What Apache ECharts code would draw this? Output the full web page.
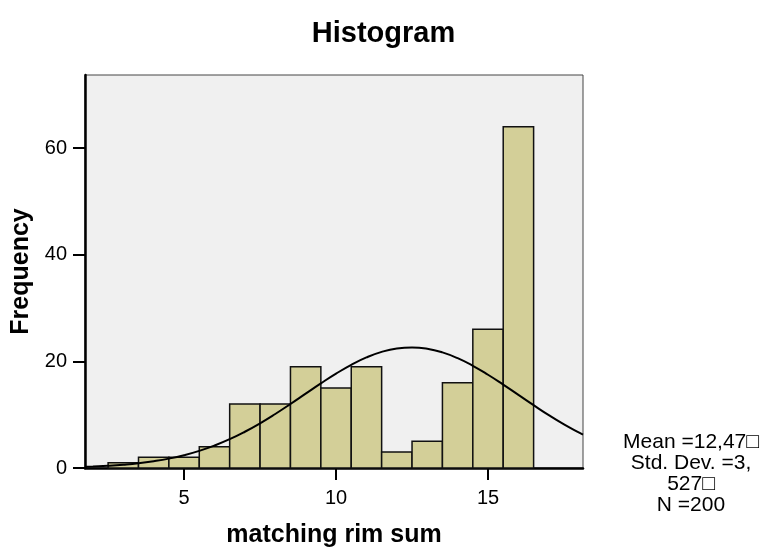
<!DOCTYPE html>
<html><head><meta charset="utf-8">
<script src="https://cdn.jsdelivr.net/npm/echarts@6/dist/echarts.min.js"></script>
<style>html,body{margin:0;padding:0;background:#fff}#c{width:767px;height:547px}</style>
</head><body><div id="c"></div>
<script>
var binStarts = [2.5,3.5,4.5,5.5,6.5,7.5,8.5,9.5,10.5,11.5,12.5,13.5,14.5,15.5];
var binCounts = [1,2,2,4,12,12,19,15,19,3,5,16,26,64];
var curveX = [1.74,2,2.5,3,3.5,4,4.5,5,5.5,6,6.5,7,7.5,8,8.5,9,9.5,10,10.5,11,11.5,12,12.5,13,13.5,14,14.5,15,15.5,16,16.5,17,17.5,18,18.125];
var curveY = [0.22,0.28,0.42,0.62,0.89,1.27,1.76,2.40,3.21,4.21,5.40,6.80,8.38,10.13,12.00,13.94,15.87,17.70,19.35,20.74,21.78,22.42,22.62,22.37,21.68,20.59,19.17,17.49,15.64,13.71,11.78,9.91,8.18,6.62,6.26];
var xTicks = [5,10,15];
var yTicks = [0,20,40,60];
var statLines = ['Mean =12,47\u25A1','Std. Dev. =3,','527\u25A1','N =200'];

var barData = binStarts.map(function(s,i){return [s, s+1, binCounts[i]];});
var curveData = curveX.map(function(x,i){return [x, curveY[i]];});
var FONT = '"Liberation Sans", Arial, sans-serif';

var chart = echarts.init(document.getElementById('c'));
chart.setOption({
  animation:false,
  backgroundColor:'#ffffff',
  title:{text:'Histogram', left:'center', top:14, textStyle:{fontFamily:FONT,fontWeight:'bold',fontSize:29,color:'#000'}},
  grid:{left:85,right:184,top:75,bottom:79,outerBoundsMode:'none',containLabel:false,show:true,backgroundColor:'#f0f0f0',borderColor:'#444',borderWidth:1},
  xAxis:{type:'value',min:1.74,max:18.125,
    name:'matching rim sum',nameLocation:'middle',nameGap:55,
    nameTextStyle:{fontFamily:FONT,fontWeight:'bold',fontSize:25,color:'#000'},
    axisLine:{show:true,onZero:false,lineStyle:{color:'#000',width:2.5}},
    axisTick:{show:true,length:12,lineStyle:{color:'#000',width:2},customValues:xTicks},
    axisLabel:{fontFamily:FONT,fontSize:20,color:'#000',margin:20,customValues:xTicks},
    splitLine:{show:false}},
  yAxis:{type:'value',min:0,max:73.7,
    name:'Frequency',nameLocation:'middle',nameGap:48,
    nameTextStyle:{fontFamily:FONT,fontWeight:'bold',fontSize:25,color:'#000'},
    axisLine:{show:true,lineStyle:{color:'#000',width:2.5}},
    axisTick:{show:true,length:12,lineStyle:{color:'#000',width:2},customValues:yTicks},
    axisLabel:{fontFamily:FONT,fontSize:20,color:'#000',margin:18,customValues:yTicks},
    splitLine:{show:false}},
  series:[
    {type:'custom',data:barData,encode:{x:[0,1],y:2},z:2,
     renderItem:function(params,api){
       var p0=api.coord([api.value(0),api.value(2)]);
       var p1=api.coord([api.value(1),0]);
       return {type:'rect',shape:{x:p0[0],y:p0[1],width:p1[0]-p0[0],height:p1[1]-p0[1]},
         style:{fill:'#d3cf98',stroke:'#111',lineWidth:1.5}};
     }},
    {type:'line',data:curveData,smooth:true,showSymbol:false,z:3,
     lineStyle:{color:'#000',width:2}}
  ],
  graphic:statLines.map(function(t,i){
    return {type:'text',x:691,y:442+i*21,style:{text:t,fill:'#000',font:'21px '+FONT,textAlign:'center',textVerticalAlign:'middle'}};
  })
});
</script></body></html>
